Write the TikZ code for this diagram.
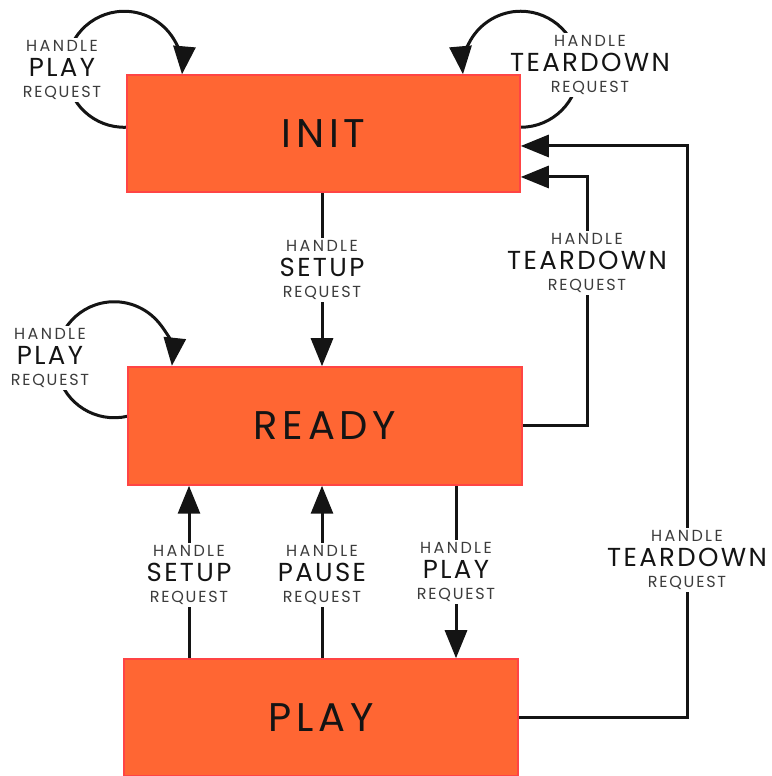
\documentclass[tikz,border=0pt]{standalone}
\usepackage{fontspec}
\setmainfont{Poppins}
\usetikzlibrary{arrows.meta,calc}
\pgfdeclarelayer{back}
\pgfsetlayers{back,main}
\definecolor{boxfill}{RGB}{255,102,51}
\definecolor{boxline}{RGB}{255,68,68}
\definecolor{lblgray}{RGB}{60,60,60}
\definecolor{ink}{RGB}{20,20,20}
\newcommand\lbl[1]{{\addfontfeatures{LetterSpace=15}\color{lblgray}HANDLE}\\[6pt]{\fontsize{26}{19}\selectfont\addfontfeatures{LetterSpace=9}\color{ink}#1}\\[2pt]{\addfontfeatures{LetterSpace=11}\color{lblgray}REQUEST}}
\begin{document}
\begin{tikzpicture}[x=1pt,y=1pt,
  statebox/.style={rectangle, fill=boxfill, draw=boxline, line width=1.5pt,
    font=\fontsize{40}{44}\selectfont\addfontfeatures{LetterSpace=12}, text=ink, inner sep=0pt},
  arr/.style={draw=ink, line width=3pt, -{Triangle[length=28pt,width=22pt]}},
  lab/.style={fill=white, align=center, inner sep=2pt, font=\fontsize{16}{19}\selectfont}]
\useasboundingbox (0,0) rectangle (771,776);
% states
\node[statebox, minimum width=393pt, minimum height=117pt] (init) at (323.5,642.5) {INIT};
\node[statebox, minimum width=394pt, minimum height=118pt] (ready) at (325,350) {READY};
\node[statebox, minimum width=394pt, minimum height=117pt] (play) at (321,58.5) {PLAY};
% helper coordinates
\coordinate (t1) at (587,599);
\coordinate (t2) at (687,630);
\coordinate (xs) at (189,0);
\coordinate (xp) at (322,0);
\coordinate (xq) at (456,0);
\begin{pgfonlayer}{back}
% self loops
\draw[arr] ($(init.north west)+(0,-53)$) arc[start angle=272, end angle=-5, radius=58pt];
\draw[arr] ($(init.north east)+(0,-53)$) arc[start angle=-90, end angle=185, radius=58pt];
\draw[arr] ($(ready.north west)+(0,-50)$) arc[start angle=283, end angle=-6, radius=58pt];
% init -> ready
\draw[arr] (init.south -| xp) -- (ready.north -| xp);
% teardown ready -> init
\draw[arr] (ready.east) -| (t1) -- (init.east |- t1);
% teardown play -> init
\draw[arr] (play.east) -| (t2) -- (init.east |- t2);
% play -> ready
\draw[arr] (play.north -| xs) -- (ready.south -| xs);
\draw[arr] (play.north -| xp) -- (ready.south -| xp);
% ready -> play
\draw[arr] (ready.south -| xq) -- (play.north -| xq);
% labels
\node[lab] (l1) at (62,706) {\lbl{PLAY}};
\node[lab] (l2) at (590,711) {\lbl{TEARDOWN}};
\node[lab] (l3) at (322,506) {\lbl{SETUP}};
\node[lab] (l4) at (50,418) {\lbl{PLAY}};
\node[lab] (l5) at (587,513) {\lbl{TEARDOWN}};
\node[lab] (l6) at (687,216) {\lbl{TEARDOWN}};
\node[lab] (l7) at (189,201) {\lbl{SETUP}};
\node[lab] (l8) at (322,201) {\lbl{PAUSE}};
\node[lab] (l9) at (456,204) {\lbl{PLAY}};
\end{pgfonlayer}
\end{tikzpicture}
\end{document}
